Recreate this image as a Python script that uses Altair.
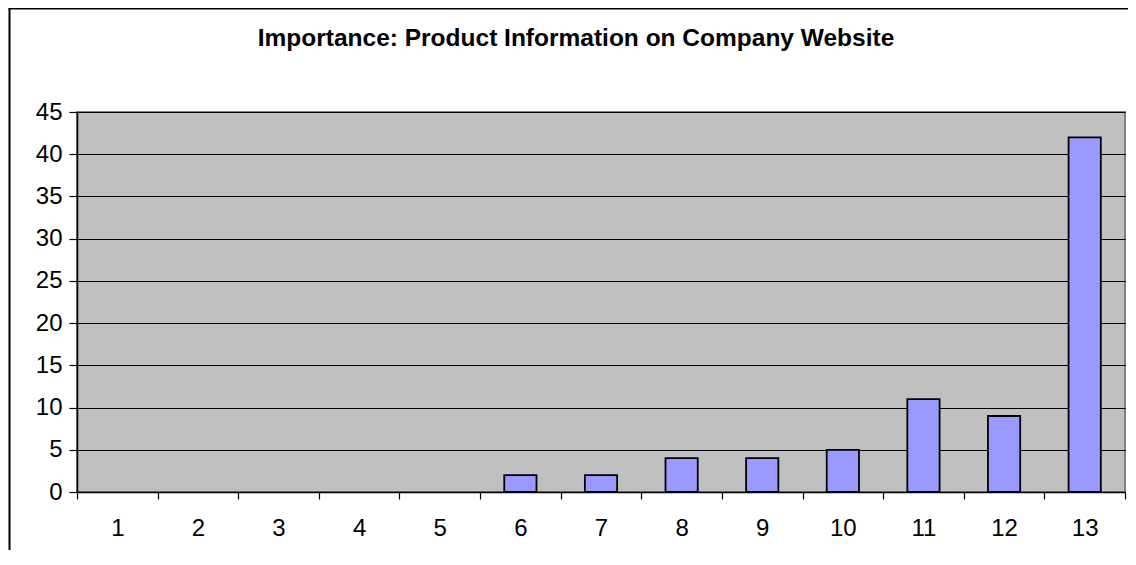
import altair as alt
import pandas as pd

# ---- data ----
categories = ["1", "2", "3", "4", "5", "6", "7", "8", "9", "10", "11", "12", "13"]
counts = [0, 0, 0, 0, 0, 2, 2, 4, 4, 5, 11, 9, 42]
y_ticks = [0, 5, 10, 15, 20, 25, 30, 35, 40, 45]
title_text = "Importance: Product Information on Company Website"

df = pd.DataFrame({"cat": categories, "value": counts})
title_df = pd.DataFrame({"t": [title_text]})
frame_df = pd.DataFrame({"k": [0]})

FONT = "Liberation Sans"

bars = alt.Chart(df).mark_bar(
    width=alt.RelativeBandSize(0.4),
    color="#9999FF",
    stroke="black",
    strokeWidth=1.8,
).encode(
    x=alt.X(
        "cat:O",
        sort=categories,
        scale=alt.Scale(paddingInner=0, paddingOuter=0),
        axis=alt.Axis(
            title=None,
            labelAngle=0,
            tickBand="extent",
            grid=False,
            domainColor="black",
            domainWidth=1.5,
            tickColor="black",
            tickWidth=1.2,
            tickSize=7,
            labelFontSize=24,
            labelFont=FONT,
            labelColor="black",
            labelPadding=17,
        ),
    ),
    y=alt.Y(
        "value:Q",
        scale=alt.Scale(domain=[0, 45], nice=False),
        axis=alt.Axis(
            title=None,
            values=y_ticks,
            grid=True,
            gridColor="black",
            gridWidth=1,
            domainColor="black",
            domainWidth=1.5,
            tickColor="black",
            tickWidth=1.2,
            tickSize=8,
            labelFontSize=24,
            labelFont=FONT,
            labelColor="black",
            labelPadding=7,
        ),
    ),
    strokeOpacity=alt.condition("datum.value > 0", alt.value(1), alt.value(0)),
    fillOpacity=alt.condition("datum.value > 0", alt.value(1), alt.value(0)),
)

title = alt.Chart(title_df).mark_text(
    font=FONT, fontSize=24.5, fontWeight="bold", align="center", baseline="alphabetic", color="black"
).encode(text="t:N", x=alt.value(499), y=alt.value(-66))

left_rule = alt.Chart(frame_df).mark_rule(color="black", strokeWidth=2).encode(
    x=alt.value(-67.5), y=alt.value(-104.5), y2=alt.value(470)
)
top_rule = alt.Chart(frame_df).mark_rule(color="black", strokeWidth=2).encode(
    x=alt.value(-68.5), x2=alt.value(1070), y=alt.value(-103.5)
)

chart = alt.layer(bars, title, left_rule, top_rule).properties(
    width=1048,
    height=380,
    autosize=alt.AutoSizeParams(type="none"),
    padding={"left": 69, "top": 104, "right": 3, "bottom": 58},
    background="white",
).configure_view(
    fill="#C0C0C0", stroke="#808080", strokeWidth=2
)

chart.save("out.html", embed_options={"renderer": "svg", "actions": False})
